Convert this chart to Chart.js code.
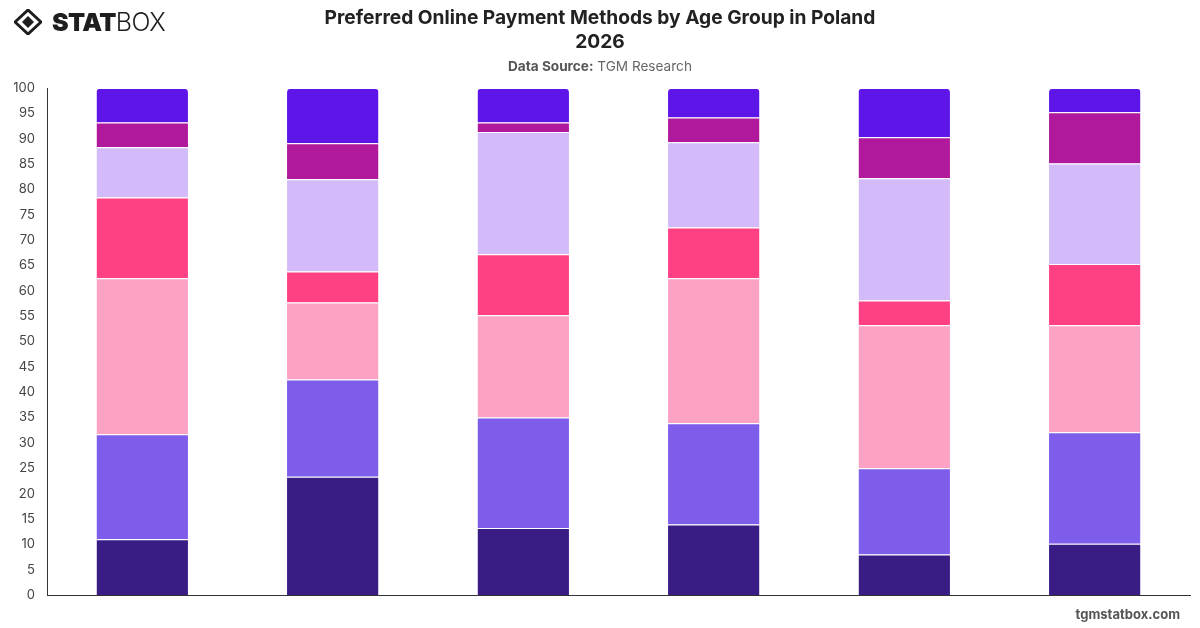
<!DOCTYPE html>
<html>
<head>
<meta charset="utf-8">
<script src="https://cdn.jsdelivr.net/npm/chart.js@4/dist/chart.umd.min.js"></script>
<style>
  html, body { margin: 0; padding: 0; background: #fff; }
  #wrap { position: relative; width: 1200px; height: 628px; overflow: hidden; font-family: Inter, "Liberation Sans", Arial, sans-serif; }
  #c { position: absolute; left: 0; top: 0; }
  #title { position: absolute; left: 300px; width: 600px; top: 5px; text-align: center; font-size: 19.2px; font-weight: 700; color: #222; line-height: 24px; }
  #sub { position: absolute; left: 300px; width: 600px; top: 58px; text-align: center; font-size: 13.6px; color: #666; }
  #sub b { color: #555; }
  #logo { position: absolute; left: 14px; top: 6px; height: 32px; display: flex; align-items: center; }
  #logo .t { font-size: 25px; letter-spacing: -0.6px; color: #1e1e1e; margin-left: 10px; line-height: 32px; }
  #logo .s { font-weight: 900; }
  #logo .b { font-weight: 300; }
  #foot { position: absolute; right: 20px; top: 606px; font-size: 13px; font-weight: 700; color: #555; }
</style>
</head>
<body>
<div id="wrap">
  <canvas id="c" width="1200" height="628"></canvas>
  <div id="logo">
    <svg width="28" height="26" viewBox="0 0 28 26">
      <polygon points="14,1 27,13 14,25 1,13" fill="none" stroke="#1e1e1e" stroke-width="3"/>
      <polygon points="14,7 20,13 14,19 8,13" fill="#1e1e1e"/>
    </svg>
    <span class="t"><span class="s">STAT</span><span class="b">BOX</span></span>
  </div>
  <div id="title">Preferred Online Payment Methods by Age Group in Poland<br>2026</div>
  <div id="sub"><b>Data Source:</b> TGM Research</div>
  <div id="foot">tgmstatbox.com</div>
</div>
<script>
const categories = ["18-24", "25-34", "35-44", "45-54", "55-64", "65+"];
const seriesNames = ["Series 1", "Series 2", "Series 3", "Series 4", "Series 5", "Series 6", "Series 7"];
const s1 = [11.0, 23.3, 13.2, 13.9, 8.0, 10.1];
const s2 = [20.7, 19.2, 21.8, 20.0, 17.0, 22.0];
const s3 = [30.8, 15.2, 20.2, 28.6, 28.2, 21.1];
const s4 = [15.9, 6.1, 12.0, 10.0, 4.9, 12.1];
const s5 = [9.9, 18.2, 24.1, 16.8, 24.1, 19.8];
const s6 = [4.9, 7.1, 1.9, 4.9, 8.1, 10.1];
const s7 = [6.8, 10.9, 6.8, 5.8, 9.7, 4.8];
const yTicks = [0,5,10,15,20,25,30,35,40,45,50,55,60,65,70,75,80,85,90,95,100];
const colors = ["#3A1C85", "#7E5DEB", "#FEA2C5", "#FF4085", "#D3BBFA", "#B0199C", "#5E16E8"];

const seriesValues = [s1, s2, s3, s4, s5, s6, s7];
const datasets = seriesValues.map((vals, i) => ({
  label: seriesNames[i],
  data: vals,
  backgroundColor: colors[i],
  borderColor: "#ffffff",
  borderWidth: { top: 1, bottom: 0, left: 0, right: 0 },
  borderSkipped: false,
  borderRadius: i === seriesValues.length - 1 ? { topLeft: 4, topRight: 4, bottomLeft: 0, bottomRight: 0 } : 0,
  categoryPercentage: 0.8,
  barPercentage: 0.6
}));

new Chart(document.getElementById("c"), {
  type: "bar",
  data: { labels: categories, datasets },
  options: {
    responsive: false,
    animation: false,
    layout: { padding: { top: 88, bottom: 33, left: 0, right: 10 } },
    plugins: { legend: { display: false }, title: { display: false }, tooltip: { enabled: false } },
    scales: {
      x: {
        stacked: true,
        grid: { display: false, drawTicks: false },
        border: { display: true, color: "#333", width: 1 },
        ticks: { display: false }
      },
      y: {
        stacked: true,
        min: 0, max: 100,
        afterBuildTicks: (axis) => { axis.ticks = yTicks.map(v => ({ value: v })); },
        afterFit: (axis) => { axis.width = 47; },
        grid: { display: false, drawTicks: false },
        border: { display: true, color: "#333", width: 1 },
        ticks: { padding: 12, color: "#444", font: { family: "Inter, 'Liberation Sans', Arial", size: 13 } }
      }
    }
  }
});
</script>
</body>
</html>
